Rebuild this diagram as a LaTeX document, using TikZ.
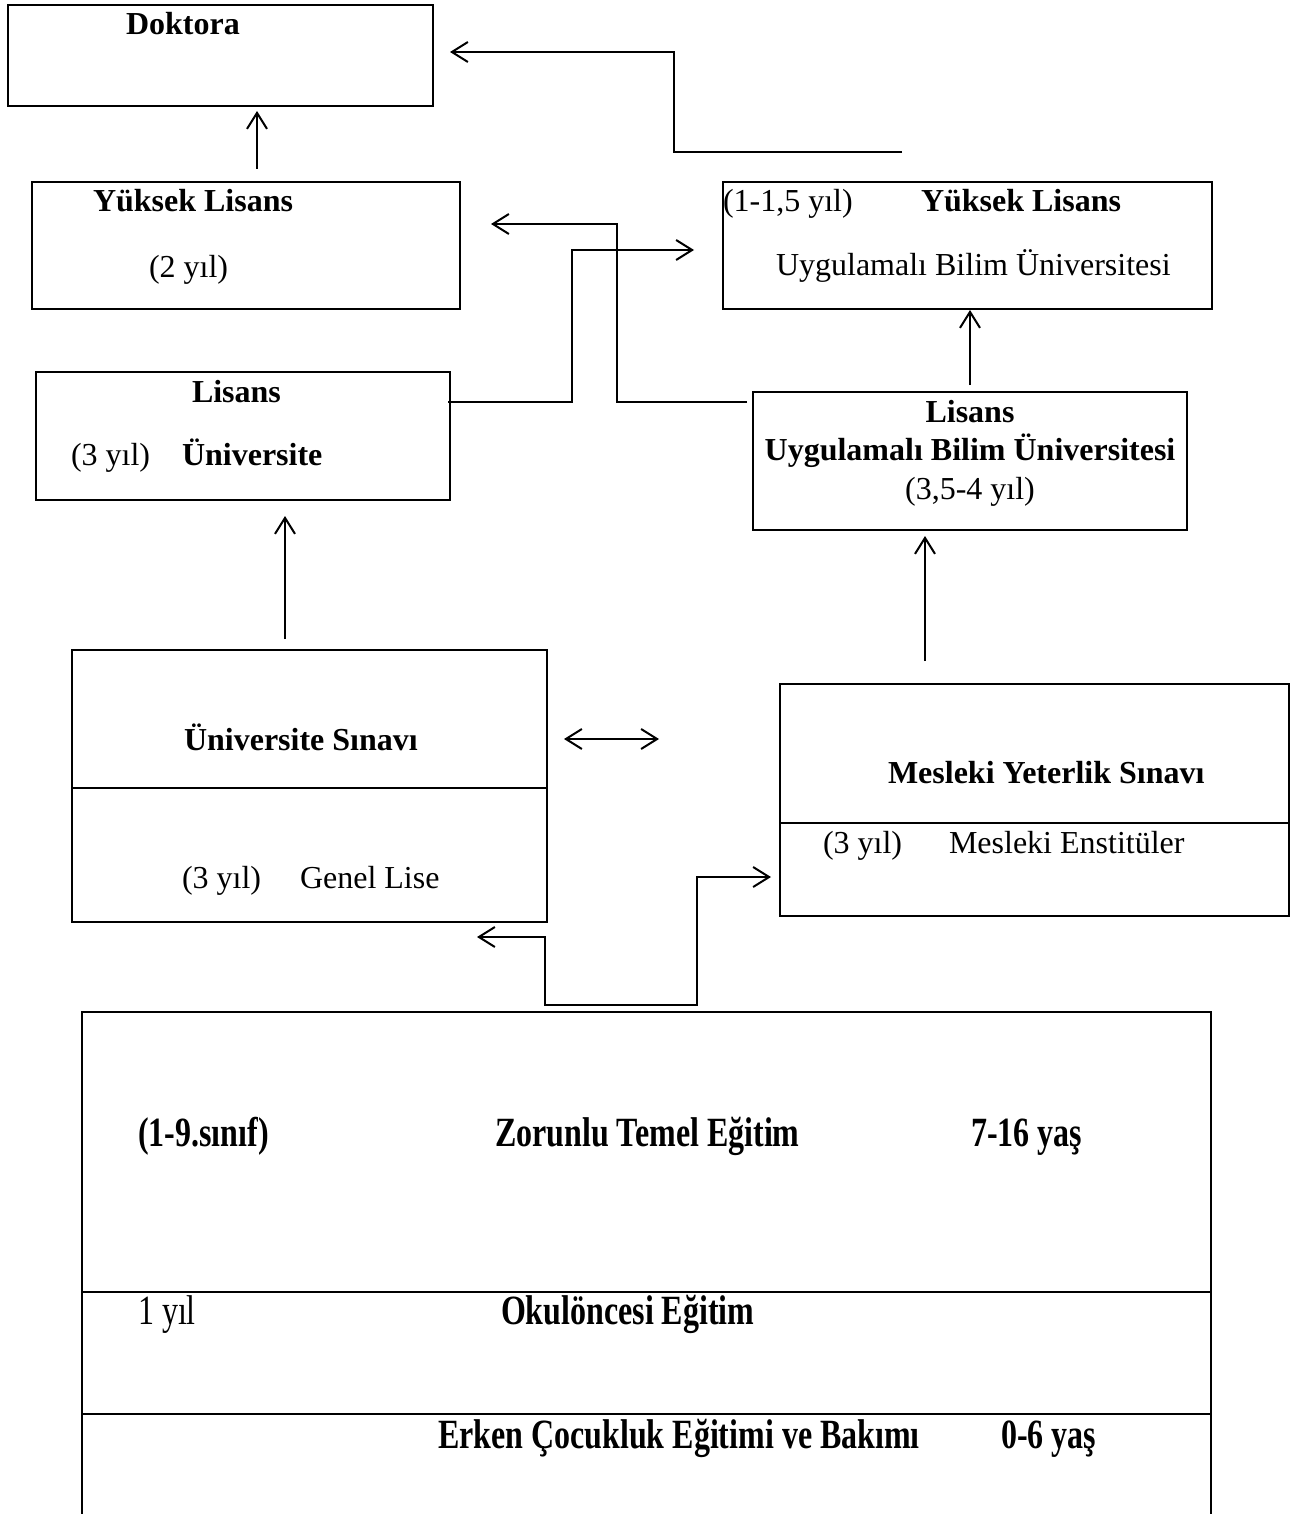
\documentclass[tikz,border=0pt]{standalone}
\usepackage{fontspec}
\setmainfont{Liberation Serif}
\usetikzlibrary{arrows.meta,fit}

\newcommand{\boy}{\fontsize{16}{19}\selectfont}
% alt blok yazilari dikey uzatilmis
\newcommand{\uzat}[1]{\scalebox{1}[1.3]{#1}}

\tikzset{
  kutu/.style={draw, line width=1pt, inner sep=0pt},
  yazi/.style={anchor=base west, inner sep=0pt, font=\boy},
  kyazi/.style={yazi, font=\boy\bfseries},
  orta/.style={anchor=base, inner sep=0pt, font=\boy},
  korta/.style={orta, font=\boy\bfseries}
}

\begin{document}
\begin{tikzpicture}[x=0.5pt, y=-0.5pt, line width=1pt,
    >={Straight Barb[length=8pt,width=10pt]}]
        \useasboundingbox (0,0) rectangle (1307,1514);

        % Kutular
        \node[kutu, fit={(8,5) (433,106)}] (doktora) {};
        \node[kutu, fit={(32,182) (460,309)}] (ylisans) {};
        \node[kutu, fit={(723,182) (1212,309)}] (ylisansub) {};
        \node[kutu, fit={(36,372) (450,500)}] (lisans) {};
        \node[kutu, fit={(753,392) (1187,530)}] (lisansub) {};
        \node[kutu, fit={(72,650) (547,922)}] (sinav) {};
        \node[kutu, fit={(780,684) (1289,916)}] (mesleki) {};
        \node[inner sep=0pt, fit={(83,1013) (1210,1514)}] (temel) {};

        % Alt blok: alt kenari yok
        \draw (temel.south west) |- (temel.north east) -- (temel.south east);
        \draw (temel.west |- 0,1292) -- (temel.east |- 0,1292);
        \draw (temel.west |- 0,1414) -- (temel.east |- 0,1414);

        % Ara cizgiler
        \draw (sinav.west |- 0,788) -- (sinav.east |- 0,788);
        \draw (mesleki.west |- 0,823) -- (mesleki.east |- 0,823);

        % Yazilar
        \node[kyazi] (tdoktora) at (125,35) {Doktora};
        \node[kyazi] (tylisans) at (92,212) {Yüksek Lisans};
        \node[yazi] (tyil2) at (148,278) {(2 yıl)};
        \node[yazi] (tyil15) at (722,212) {(1-1,5 yıl)};
        \node[kyazi] (tylisansub) at (920,212) {Yüksek Lisans};
        \node[yazi] (tubu) at (775,276) {Uygulamalı Bilim Üniversitesi};
        \node[kyazi] (tlisans) at (191,402) {Lisans};
        \node[yazi] (tyil3a) at (70,465) {(3 yıl)};
        \node[kyazi] (tuni) at (181,465) {Üniversite};
        \node[korta] (tlisansub) at (970,422) {Lisans};
        \node[korta] (tubub) at (970,460) {Uygulamalı Bilim Üniversitesi};
        \node[orta] (tyil354) at (970,499) {(3,5-4 yıl)};
        \node[kyazi] (tsinav) at (183,750) {Üniversite Sınavı};
        \node[yazi] (tyil3b) at (181,888) {(3 yıl)};
        \node[yazi] (tlise) at (299,888) {Genel Lise};
        \node[kyazi] (tmesleki) at (887,783) {Mesleki Yeterlik Sınavı};
        \node[yazi] (tyil3c) at (822,853) {(3 yıl)};
        \node[yazi] (tenst) at (948,853) {Mesleki Enstitüler};
        \node[kyazi] (tsinif) at (137,1146) {\uzat{(1-9.sınıf)}};
        \node[kyazi] (tzorunlu) at (494,1146) {\uzat{Zorunlu Temel Eğitim}};
        \node[kyazi] (tyas716) at (970,1146) {\uzat{7-16 yaş}};
        \node[yazi] (tyil1) at (137,1324) {\uzat{1 yıl}};
        \node[kyazi] (tokul) at (500,1324) {\uzat{Okulöncesi Eğitim}};
        \node[kyazi] (terken) at (437,1448) {\uzat{Erken Çocukluk Eğitimi ve Bakımı}};
        \node[kyazi] (tyas06) at (1000,1448) {\uzat{0-6 yaş}};

        % Serbest uclar
        \coordinate (ubgiris) at (902,152);
        \coordinate (lisegiris) at (477,937);

        % Oklar
        \draw[->, shorten <=6pt, shorten >=2pt] (ylisans.north -| 257,0) -- (doktora.south -| 257,0);
        \draw[->, shorten >=8pt] (ubgiris) -| (674,52) -- (doktora.east |- 0,52);
        \draw[->, shorten <=3pt] (lisansub.north -| 970,0) -- (ylisansub.south -| 970,0);
        \draw[->, shorten >=14pt] ([xshift=-1.5pt]lisans.east |- 0,402) -| (572,250) -- (ylisansub.west |- 0,250);
        \draw[->, shorten <=2.5pt, shorten >=15pt] (lisansub.west |- 0,402) -| (617,224) -- (ylisans.east |- 0,224);
        \draw[->, shorten <=5pt, shorten >=7.5pt] (sinav.north -| 285,0) -- (lisans.south -| 285,0);
        \draw[->, shorten <=11pt, shorten >=2.5pt] (mesleki.north -| 925,0) -- (lisansub.south -| 925,0);
        \draw[<->, shorten <=8pt, shorten >=60pt] (sinav.east |- 0,739) -- (mesleki.west |- 0,739);
        \draw[->, shorten >=4pt] ([yshift=3.5pt]temel.north -| 617,0) -| (697,877) -- (mesleki.west |- 0,877);
        \draw[->] ([yshift=3.5pt]temel.north -| 617,0) -| (545,937) -- (lisegiris);
\end{tikzpicture}
\end{document}
